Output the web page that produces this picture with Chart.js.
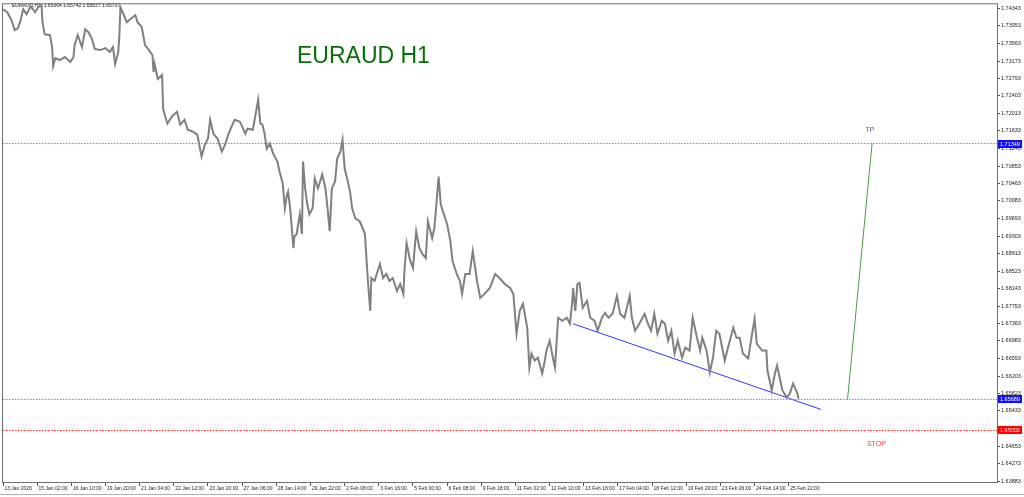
<!DOCTYPE html>
<html>
<head>
<meta charset="utf-8">
<script src="https://cdn.jsdelivr.net/npm/chart.js@4/dist/chart.umd.min.js"></script>
<style>
  html, body { margin: 0; padding: 0; background: #fff; }
  canvas { display: block; }
</style>
</head>
<body>
<canvas id="chartEurAud" width="1024" height="497"></canvas>
<script>
// H1 bar index (0 = 13 Jan 2026 00:00) and close
const bars = [0, 4, 8, 11, 14, 16, 19, 22, 26, 30, 33, 36, 37, 39, 44, 46, 47, 49, 53, 58,
  63, 66, 67, 70, 74, 77, 80, 83, 86, 91, 96, 100, 103, 105, 108, 109, 110, 112, 116, 119,
  124, 126, 130, 133, 136, 140, 141, 142, 145, 149, 150, 152, 154, 158, 163, 166, 170, 173, 178, 182,
  186, 189, 192, 194, 197, 201, 205, 208, 211, 214, 217, 222, 227, 229, 234, 239, 241, 243, 245, 247,
  250, 253, 257, 259, 262, 264, 266, 267, 269, 272, 273, 275, 278, 280, 281, 283, 285, 287, 290, 292,
  295, 299, 302, 304, 306, 308, 311, 313, 316, 318, 320, 323, 325, 327, 330, 334, 337, 339, 341, 342,
  344, 345, 348, 353, 356, 359, 362, 365, 369, 372, 375, 376, 378, 381, 384, 387, 390, 393, 396, 398,
  402, 404, 406, 408, 410, 412, 416, 419, 421, 425, 428, 430, 433, 437, 440, 444, 447, 451, 456, 461,
  465, 470, 475, 478, 481, 484, 487, 491, 493, 495, 498, 501, 505, 507, 509, 512, 515, 517, 519, 520,
  524, 528, 531, 533, 534, 536, 538, 540, 543, 547, 550, 554, 557, 561, 564, 567, 571, 575, 578, 582,
  587, 589, 592, 596, 601, 604, 607, 610, 613, 617, 620, 623, 626, 629, 632, 636, 639, 643, 646, 650,
  653, 655, 659, 662, 665, 668, 671, 676, 679, 684, 687, 690, 693, 698, 701, 704, 706, 711, 715, 716,
  720, 723, 725, 728, 730, 734, 737, 740, 744, 745];
const closes = [1.74321, 1.74255, 1.74079, 1.73858, 1.73902, 1.74035, 1.74321, 1.74211, 1.74387, 1.74255,
  1.74365, 1.74431, 1.74035, 1.73770, 1.73748, 1.73484, 1.73066, 1.73242, 1.73198, 1.73264,
  1.73154, 1.73264, 1.73528, 1.73748, 1.73484, 1.73880, 1.73814, 1.73682, 1.73440, 1.73418,
  1.73462, 1.73374, 1.73484, 1.73110, 1.73374, 1.73748, 1.74365, 1.74255, 1.74035, 1.74101,
  1.74189, 1.74035, 1.73924, 1.73528, 1.73440, 1.73308, 1.72934, 1.73110, 1.72779, 1.72868,
  1.72119, 1.71943, 1.71789, 1.71943, 1.72053, 1.71767, 1.71877, 1.71656, 1.71612, 1.71546,
  1.71062, 1.71326, 1.71458, 1.71877, 1.71568, 1.71458, 1.71172, 1.71326, 1.71546, 1.71722,
  1.71877, 1.71833, 1.71568, 1.71678, 1.71656, 1.72317, 1.71789, 1.71767, 1.71568, 1.71238,
  1.71348, 1.71128, 1.70952, 1.70732, 1.70467, 1.69917, 1.70225, 1.70291, 1.69917, 1.69036,
  1.69300, 1.69344, 1.69785, 1.69344, 1.70952, 1.70357, 1.70005, 1.69785, 1.69917, 1.70577,
  1.70357, 1.70666, 1.70357, 1.69917, 1.69410, 1.70357, 1.70511, 1.71018, 1.71172, 1.71436,
  1.70798, 1.70511, 1.70291, 1.69917, 1.69697, 1.69631, 1.69476, 1.69344, 1.68596, 1.68243,
  1.67649, 1.68375, 1.68309, 1.68684, 1.68375, 1.68464, 1.68309, 1.68375, 1.68089, 1.68243,
  1.68023, 1.68530, 1.69146, 1.68794, 1.68596, 1.69410, 1.69036, 1.68904, 1.68816, 1.69631,
  1.69256, 1.69476, 1.70027, 1.70621, 1.70005, 1.69851, 1.69565, 1.69190, 1.68750, 1.68464,
  1.68309, 1.68023, 1.68464, 1.68464, 1.68970, 1.68309, 1.67935, 1.68023, 1.68155, 1.68464,
  1.68375, 1.68243, 1.68155, 1.68023, 1.67142, 1.67649, 1.67803, 1.67274, 1.66394, 1.66702,
  1.66548, 1.66614, 1.66262, 1.66482, 1.66768, 1.66988, 1.66614, 1.66394, 1.67142, 1.67495,
  1.67429, 1.67495, 1.67363, 1.67803, 1.68155, 1.67649, 1.68243, 1.68265, 1.67715, 1.67869,
  1.67495, 1.67429, 1.67208, 1.67495, 1.67605, 1.67495, 1.67583, 1.67979, 1.67583, 1.67495,
  1.67979, 1.67495, 1.67208, 1.67363, 1.67583, 1.67363, 1.67208, 1.67583, 1.67142, 1.67429,
  1.67363, 1.66988, 1.67208, 1.66702, 1.66988, 1.66614, 1.66834, 1.66768, 1.67495, 1.67054,
  1.66768, 1.67054, 1.66768, 1.66284, 1.66614, 1.67208, 1.67142, 1.66548, 1.66834, 1.67274,
  1.67054, 1.67054, 1.66702, 1.66592, 1.67054, 1.67473, 1.66922, 1.66768, 1.66768, 1.66328,
  1.65887, 1.66262, 1.66438, 1.66107, 1.65887, 1.65733, 1.65821, 1.66041, 1.65821, 1.65707];

// horizontal levels
const tpLevel = 1.71349;
const entryLevel = 1.65689;
const stopLevel = 1.65002;

// trend line (bar, price) and projection line
const trendBars = [534, 766];
const trendPrices = [1.67362, 1.65468];
const projBars = [791, 814];
const projPrices = [1.65689, 1.71349];

// text marks
const tpTextAt = [812, 1.71656];
const stopTextAt = [818, 1.64698];

// axis labels
const xTickLabels = ['13 Jan 2026', '15 Jan 02:00', '16 Jan 10:00', '19 Jan 20:00', '21 Jan 04:00',
  '22 Jan 12:00', '23 Jan 20:00', '27 Jan 06:00', '28 Jan 14:00', '29 Jan 22:00', '2 Feb 08:00',
  '3 Feb 16:00', '5 Feb 00:00', '6 Feb 08:00', '9 Feb 18:00', '11 Feb 02:00', '12 Feb 10:00',
  '13 Feb 18:00', '17 Feb 04:00', '18 Feb 12:00', '19 Feb 20:00', '23 Feb 06:00', '24 Feb 14:00',
  '25 Feb 22:00'];
const xTickStep = 32;
const yTickLabels = ['1.74343', '1.73953', '1.73563', '1.73173', '1.72793', '1.72403', '1.72013',
  '1.71633', '1.71243', '1.70853', '1.70463', '1.70083', '1.69693', '1.69303', '1.68913', '1.68523',
  '1.68143', '1.67753', '1.67363', '1.66983', '1.66593', '1.66203', '1.65823', '1.65433', '1.64653',
  '1.64273', '1.63883'];

const levelLine = (y, color) => ({
  data: [{ x: 0, y: y }, { x: 931, y: y }],
  borderColor: color, borderWidth: 1, borderDash: [1.5, 1.5], pointRadius: 0
});

const mt4Bits = {
  id: 'mt4Bits',
  beforeDatasetsDraw(chart) {
    const ctx = chart.ctx;
    ctx.save();
    ctx.fillStyle = '#111';
    ctx.font = '5px "Liberation Sans", Arial, sans-serif';
    ctx.textBaseline = 'middle';
    ctx.fillText('EURAUD,H1  1.65664 1.65742 1.65637 1.65707', 12, 6);
    ctx.fillStyle = '#0a6e0a';
    ctx.font = '23px "Liberation Sans", Arial, sans-serif';
    ctx.textBaseline = 'alphabetic';
    ctx.fillText('EURAUD H1', 297, 63);
    ctx.restore();
  },
  afterDraw(chart) {
    const ctx = chart.ctx;
    const a = chart.chartArea;
    const xs = chart.scales.x, ys = chart.scales.y;
    ctx.save();
    ctx.strokeStyle = '#707070';
    ctx.lineWidth = 1;
    ctx.strokeRect(a.left - 0.5, a.top - 0.5, a.right - a.left + 1, a.bottom - a.top + 1);
    ctx.strokeStyle = '#b0b0b0';
    ctx.beginPath();
    ctx.moveTo(0, 494.5); ctx.lineTo(1024, 494.5);
    ctx.stroke();

    ctx.font = '7px "Liberation Sans", Arial, sans-serif';
    ctx.textAlign = 'center';
    ctx.textBaseline = 'middle';
    ctx.fillStyle = '#4a4aff';
    ctx.fillText('TP', xs.getPixelForValue(tpTextAt[0]), ys.getPixelForValue(tpTextAt[1]));
    ctx.fillStyle = '#ff3030';
    ctx.fillText('STOP', xs.getPixelForValue(stopTextAt[0]), ys.getPixelForValue(stopTextAt[1]));

    // price boxes on the right axis
    ctx.font = '5.5px "Liberation Sans", Arial, sans-serif';
    ctx.textAlign = 'left';
    [[tpLevel, '#1010ff'], [entryLevel, '#1010ff'], [stopLevel, '#ff0000']].forEach(([v, c]) => {
      const y = Math.round(ys.getPixelForValue(v));
      ctx.fillStyle = c;
      ctx.fillRect(a.right + 1, y - 4, 24, 8);
      ctx.fillStyle = '#fff';
      ctx.fillText(v.toFixed(5), a.right + 3, y);
    });
    ctx.restore();
  }
};

new Chart(document.getElementById('chartEurAud').getContext('2d'), {
  type: 'line',
  data: {
    datasets: [
      levelLine(tpLevel, '#7272ff'),
      levelLine(entryLevel, '#7272ff'),
      levelLine(stopLevel, '#ff2020'),
      {
        data: bars.map((b, k) => ({ x: b, y: closes[k] })),
        borderColor: '#808080', borderWidth: 2, pointRadius: 0, tension: 0
      },
      {
        data: trendBars.map((b, k) => ({ x: b, y: trendPrices[k] })),
        borderColor: '#3535ff', borderWidth: 1, pointRadius: 0
      },
      {
        data: projBars.map((b, k) => ({ x: b, y: projPrices[k] })),
        borderColor: '#4a9a4a', borderWidth: 1, pointRadius: 0
      }
    ]
  },
  options: {
    responsive: false,
    animation: false,
    layout: { padding: { left: 3, top: 2, right: 0, bottom: 0 } },
    plugins: { legend: { display: false }, tooltip: { enabled: false } },
    scales: {
      x: {
        type: 'linear', min: 0, max: 931,
        afterBuildTicks: s => { s.ticks = xTickLabels.map((_, k) => ({ value: k * xTickStep })); },
        afterFit: s => { s.height = 15; },
        border: { display: false },
        grid: { drawOnChartArea: false, tickLength: 4, color: '#555' },
        ticks: {
          autoSkip: false, maxRotation: 0, align: 'start', padding: 0, color: '#222',
          font: { size: 5, family: '"Liberation Sans", Arial, sans-serif' },
          callback: (v, i) => ' ' + xTickLabels[i]
        }
      },
      y: {
        type: 'linear', position: 'right', min: 1.63861, max: 1.74431,
        afterBuildTicks: s => { s.ticks = yTickLabels.map(t => ({ value: parseFloat(t) })); },
        afterFit: s => { s.width = 27; },
        border: { display: false },
        grid: { drawOnChartArea: false, tickLength: 3, color: '#555' },
        ticks: {
          autoSkip: false, padding: 1, color: '#222',
          font: { size: 5.5, family: '"Liberation Sans", Arial, sans-serif' },
          callback: v => v.toFixed(5)
        }
      }
    }
  },
  plugins: [mt4Bits]
});
</script>
</body>
</html>
